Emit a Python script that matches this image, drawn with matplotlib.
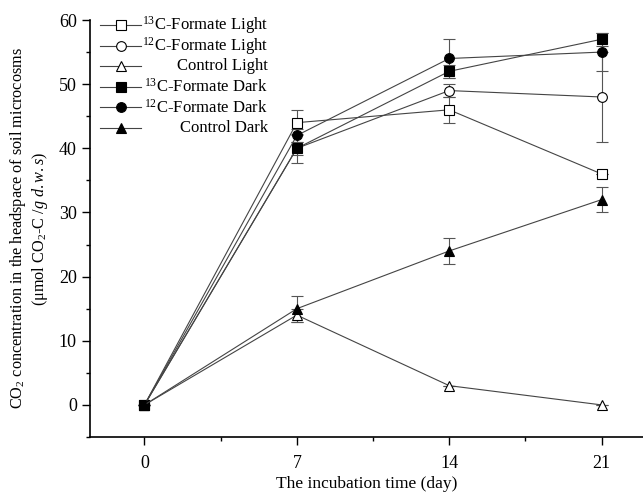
import matplotlib.pyplot as plt
from matplotlib.ticker import MultipleLocator

plt.rcParams['font.family'] = ['Liberation Serif', 'DejaVu Serif']
plt.rcParams['mathtext.fontset'] = 'custom'
plt.rcParams['mathtext.rm'] = 'Liberation Serif'
plt.rcParams['mathtext.it'] = 'Liberation Serif:italic'

days = [0, 7, 14, 21]

c13_light = [0, 44, 46, 36]
c13_light_err = [0, 2, 2, 0]
c12_light = [0, 40, 49, 48]
c12_light_err = [0, 2.3, 1, 7]
ctrl_light = [0, 14, 3, 0]
ctrl_light_err = [0, 1, 0, 0]
c13_dark = [0, 40, 52, 57]
c13_dark_err = [0, 1, 1, 1]
c12_dark = [0, 42, 54, 55]
c12_dark_err = [0, 1, 3, 3]
ctrl_dark = [0, 15, 24, 32]
ctrl_dark_err = [0, 2, 2, 2]

series = [
    (c13_light, c13_light_err, 's', 'white', '$^{13}$C-Formate Light'),
    (c12_light, c12_light_err, 'o', 'white', '$^{12}$C-Formate Light'),
    (ctrl_light, ctrl_light_err, '^', 'white', 'Control Light'),
    (c13_dark, c13_dark_err, 's', 'black', '$^{13}$C-Formate Dark'),
    (c12_dark, c12_dark_err, 'o', 'black', '$^{12}$C-Formate Dark'),
    (ctrl_dark, ctrl_dark_err, '^', 'black', 'Control Dark'),
]

W, H = 643, 494
fig = plt.figure(figsize=(W / 100, H / 100), dpi=100)
ax = fig.add_axes([0.14, 0.1154, 0.86, 0.8441])

for vals, err, mk, face, lab in series:
    ax.errorbar(days, vals, yerr=err, marker=mk, markersize=7 if mk != 's' else 6.5,
                markerfacecolor=face, markeredgecolor='black', markeredgewidth=0.8,
                color='#444444', linewidth=0.8, ecolor='#555555', elinewidth=0.8,
                capsize=4, capthick=0.8)

ax.set_xlim(-2.5, 22.9)
ax.set_ylim(-5, 60)
ax.set_xticks(days)
ax.xaxis.set_minor_locator(MultipleLocator(3.5))
ax.yaxis.set_major_locator(MultipleLocator(10))
ax.yaxis.set_minor_locator(MultipleLocator(5))
ax.spines['top'].set_visible(False)
ax.spines['right'].set_visible(False)
ax.spines['left'].set_linewidth(1.2)
ax.spines['bottom'].set_linewidth(1.2)
ax.tick_params(which='major', direction='out', length=6, width=1, labelsize=13)
ax.tick_params(axis='x', which='major', pad=7)
ax.tick_params(which='minor', direction='out', length=3, width=1)

ax.set_xlabel('The incubation time (day)', fontsize=12.5, labelpad=3)
ax.set_ylabel('CO$_2$ concentration in the headspace of soil microcosms\n'
              '(μmol CO$_2$-C /$g$ $d.w.s$)', fontsize=11.7, labelpad=6)

# legend drawn by hand so the labels can be right-aligned
for i, (vals, err, mk, face, lab) in enumerate(series):
    y = 1 - (25 + i * 20.6) / H
    fig.add_artist(plt.Line2D([100 / W, 141 / W], [y, y], color='#444444',
                              linewidth=0.8, transform=fig.transFigure))
    fig.add_artist(plt.Line2D([121 / W], [y], marker=mk,
                              markersize=7 if mk != 's' else 6.5,
                              markerfacecolor=face, markeredgecolor='black',
                              markeredgewidth=0.8, transform=fig.transFigure))
    fig.text(268 / W, y, lab, ha='right', va='center', fontsize=12)

fig.savefig('out.png', dpi=100)
